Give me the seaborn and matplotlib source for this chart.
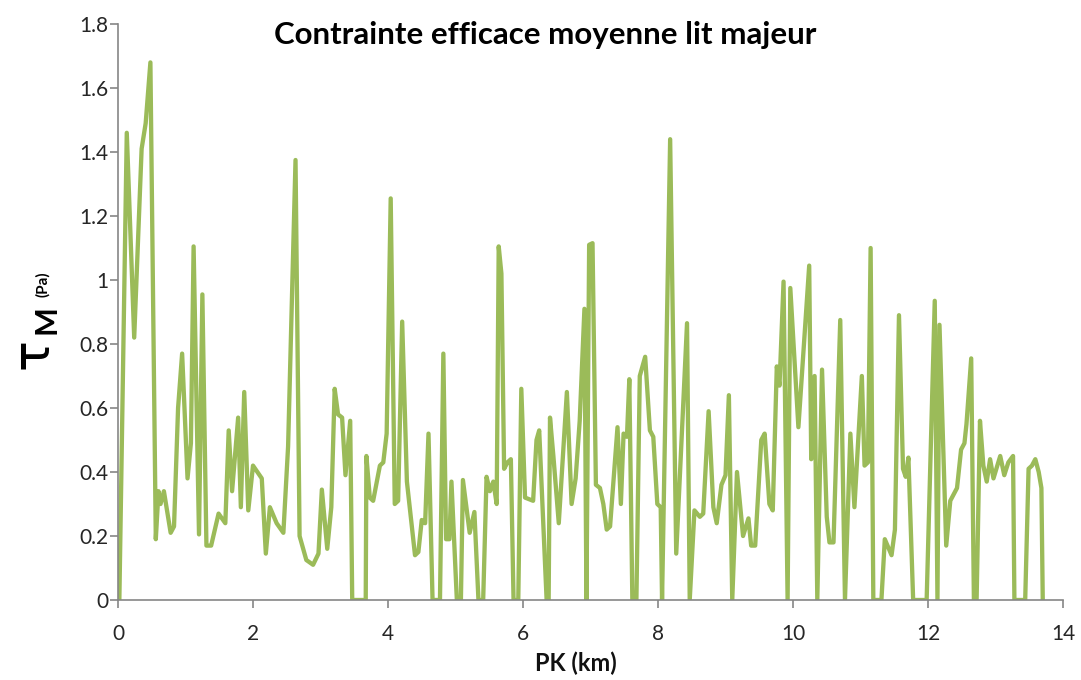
import matplotlib
matplotlib.use("Agg")
import matplotlib.pyplot as plt
import seaborn as sns
import pandas as pd

# Mean effective shear stress in the floodplain along the river (PK in km)
pk_km = [
    0.02, 0.13, 0.24, 0.35, 0.41, 0.48, 0.56, 0.60, 0.63, 0.68,
    0.78, 0.83, 0.89, 0.95, 1.03, 1.08, 1.12, 1.20, 1.25, 1.31,
    1.38, 1.49, 1.59, 1.64, 1.69, 1.78, 1.82, 1.87, 1.93, 2.00,
    2.13, 2.19, 2.25, 2.35, 2.45, 2.52, 2.63, 2.69, 2.79, 2.89,
    2.97, 3.02, 3.10, 3.16, 3.21, 3.26, 3.32, 3.37, 3.44, 3.47,
    3.67, 3.68, 3.73, 3.78, 3.88, 3.93, 3.98, 4.04, 4.10, 4.15,
    4.21, 4.28, 4.40, 4.45, 4.50, 4.55, 4.60, 4.66, 4.77, 4.82,
    4.86, 4.91, 4.94, 5.02, 5.08, 5.11, 5.21, 5.28, 5.34, 5.41,
    5.46, 5.51, 5.56, 5.61, 5.64, 5.68, 5.72, 5.77, 5.82, 5.86,
    5.93, 5.975, 6.03, 6.15, 6.20, 6.24, 6.35, 6.38, 6.40, 6.45,
    6.53, 6.65, 6.72, 6.78, 6.84, 6.91, 6.94, 6.98, 7.03, 7.08,
    7.14, 7.19, 7.24, 7.29, 7.40, 7.45, 7.49, 7.54, 7.575, 7.62,
    7.68, 7.73, 7.81, 7.88, 7.93, 7.99, 8.04, 8.06, 8.18, 8.27,
    8.43, 8.47, 8.54, 8.62, 8.67, 8.75, 8.82, 8.87, 8.94, 9.00,
    9.05, 9.10, 9.17, 9.26, 9.34, 9.38, 9.44, 9.53, 9.58, 9.65,
    9.70, 9.76, 9.80, 9.86, 9.92, 9.96, 10.08, 10.24, 10.27, 10.32,
    10.36, 10.43, 10.50, 10.54, 10.60, 10.70, 10.77, 10.85, 10.91, 11.02,
    11.06, 11.11, 11.15, 11.19, 11.31, 11.36, 11.46, 11.51, 11.57, 11.63,
    11.67, 11.71, 11.78, 11.98, 12.10, 12.14, 12.17, 12.27, 12.33, 12.43,
    12.49, 12.54, 12.57, 12.64, 12.68, 12.72, 12.77, 12.82, 12.87, 12.92,
    12.97, 13.07, 13.13, 13.19, 13.26, 13.28, 13.44, 13.49, 13.54, 13.59,
    13.64, 13.68, 13.70,
]
tau_pa = [
    0.00, 1.46, 0.82, 1.41, 1.49, 1.68, 0.19, 0.34, 0.30, 0.34,
    0.21, 0.23, 0.60, 0.77, 0.38, 0.49, 1.105, 0.205, 0.955, 0.17,
    0.17, 0.27, 0.24, 0.53, 0.34, 0.57, 0.29, 0.65, 0.28, 0.42,
    0.38, 0.145, 0.29, 0.24, 0.21, 0.48, 1.375, 0.20, 0.125, 0.11,
    0.145, 0.345, 0.16, 0.29, 0.66, 0.58, 0.57, 0.39, 0.56, 0.00,
    0.00, 0.45, 0.32, 0.31, 0.42, 0.43, 0.52, 1.255, 0.30, 0.31,
    0.87, 0.37, 0.14, 0.15, 0.25, 0.24, 0.52, 0.00, 0.00, 0.77,
    0.19, 0.19, 0.37, 0.00, 0.00, 0.375, 0.21, 0.275, 0.00, 0.00,
    0.385, 0.34, 0.37, 0.30, 1.105, 1.02, 0.41, 0.43, 0.44, 0.00,
    0.00, 0.66, 0.32, 0.31, 0.50, 0.53, 0.00, 0.00, 0.57, 0.45,
    0.24, 0.65, 0.30, 0.38, 0.56, 0.91, 0.00, 1.11, 1.115, 0.36,
    0.35, 0.30, 0.22, 0.23, 0.54, 0.30, 0.52, 0.51, 0.69, 0.00,
    0.00, 0.70, 0.76, 0.53, 0.51, 0.30, 0.29, 0.00, 1.44, 0.145,
    0.865, 0.00, 0.28, 0.26, 0.27, 0.59, 0.29, 0.24, 0.36, 0.39,
    0.64, 0.00, 0.40, 0.20, 0.255, 0.17, 0.17, 0.50, 0.52, 0.30,
    0.28, 0.73, 0.67, 0.995, 0.00, 0.975, 0.54, 1.045, 0.44, 0.70,
    0.00, 0.72, 0.26, 0.18, 0.18, 0.875, 0.00, 0.52, 0.29, 0.70,
    0.42, 0.43, 1.10, 0.00, 0.00, 0.19, 0.14, 0.22, 0.89, 0.41,
    0.385, 0.445, 0.00, 0.00, 0.935, 0.00, 0.86, 0.17, 0.31, 0.35,
    0.47, 0.49, 0.55, 0.755, 0.00, 0.00, 0.56, 0.42, 0.37, 0.44,
    0.38, 0.45, 0.39, 0.43, 0.45, 0.00, 0.00, 0.41, 0.42, 0.44,
    0.40, 0.35, 0.00,
]

x_ticks = [0, 2, 4, 6, 8, 10, 12, 14]
y_ticks = [0, 0.2, 0.4, 0.6, 0.8, 1.0, 1.2, 1.4, 1.6, 1.8]
y_tick_labels = ["0", "0.2", "0.4", "0.6", "0.8", "1", "1.2", "1.4", "1.6", "1.8"]

sns.set_theme(style="white")
plt.rcParams["font.family"] = ["Lato", "DejaVu Sans"]

df = pd.DataFrame({"PK": pk_km, "tau": tau_pa})

fig = plt.figure(figsize=(10.81, 6.80), dpi=100)
ax = fig.add_axes([118 / 1081, 80 / 680, 945 / 1081, 576 / 680])

sns.lineplot(data=df, x="PK", y="tau", ax=ax, color="#9BBB59",
             linewidth=3.1, estimator=None, sort=False)

ax.set_xlim(0, 14)
ax.set_ylim(0, 1.8)
ax.set_xticks(x_ticks)
ax.set_xticklabels([str(t) for t in x_ticks])
ax.set_yticks(y_ticks)
ax.set_yticklabels(y_tick_labels)

for side in ("top", "right"):
    ax.spines[side].set_visible(False)
for side in ("left", "bottom"):
    ax.spines[side].set_color("#868686")
    ax.spines[side].set_linewidth(1.2)

ax.tick_params(axis="both", which="major", direction="out", length=6,
               width=1.2, color="#868686", labelsize=15, labelcolor="#262626",
               left=True, bottom=True)
ax.tick_params(axis="y", pad=1)
ax.tick_params(axis="x", pad=11)

ax.set_xlabel("")
ax.set_ylabel("")

# Title and axis captions
fig.text(545 / 1081, 1 - 35 / 680, "Contrainte efficace moyenne lit majeur",
         fontsize=22.5, fontweight="bold", color="#000000",
         ha="center", va="center")
fig.text(576 / 1081, 1 - 663 / 680, "PK (km)", fontsize=17,
         fontweight="bold", color="#111111", ha="center", va="center")

# Axis symbol: tau with subscript M, followed by the unit
fig.text(33 / 1081, 1 - 354 / 680, "τ", fontsize=37, rotation=90,
         ha="center", va="center", color="#000000", family=["DejaVu Sans"])
fig.text(47 / 1081, 1 - 320 / 680, "M", fontsize=22, fontweight="bold",
         rotation=90, ha="center", va="center", color="#000000")
fig.text(43 / 1081, 1 - 284 / 680, "(Pa)", fontsize=11, fontweight="bold",
         rotation=90, ha="center", va="center", color="#000000")

fig.savefig("out.png", dpi=100, facecolor="white")
